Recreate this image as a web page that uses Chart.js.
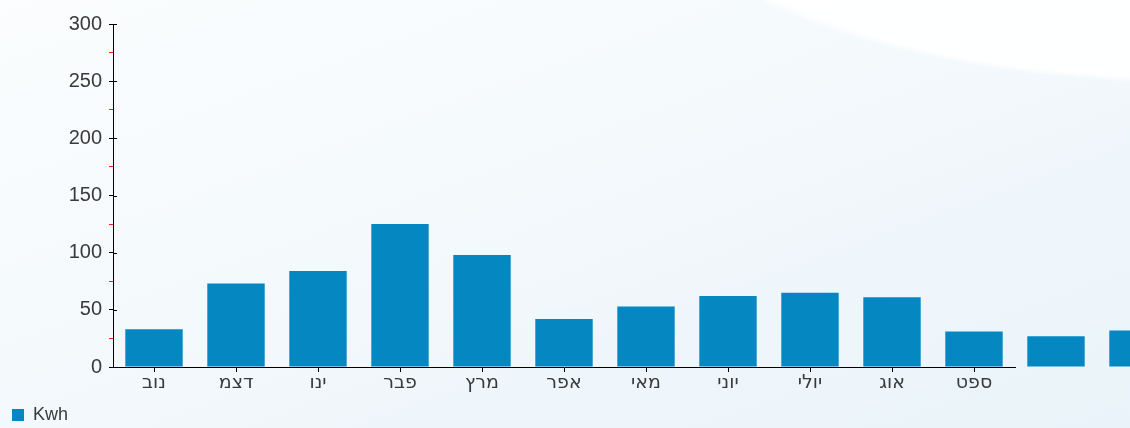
<!DOCTYPE html>
<html>
<head>
<meta charset="utf-8">
<script src="https://cdn.jsdelivr.net/npm/chart.js@4"></script>
<style>
  html, body { margin: 0; padding: 0; }
  body {
    width: 1130px; height: 428px; overflow: hidden;
    background:
      radial-gradient(ellipse 760px 330px at 1190px -170px, rgba(255,255,255,0.95) 75%, rgba(255,255,255,0) 77%),
      linear-gradient(160deg, #fbfdfe 0%, #f4f9fc 45%, #e9f3f9 100%);
  }
  #wrap { position: relative; width: 1130px; height: 428px; }
</style>
</head>
<body>
<div id="wrap"><canvas id="c"></canvas></div>
<script>
// months shown on the axis (last two bars have no label)
const months = ['נוב', 'דצמ', 'ינו', 'פבר', 'מרץ', 'אפר', 'מאי', 'יוני', 'יולי', 'אוג', 'ספט', '', ''];
const kwh = [33, 73, 84, 125, 98, 42, 53, 62, 65, 61, 31, 27, 32];
const seriesName = 'Kwh';

const BAR = '#0588c2';
const TXT = '#3a3a3a';
const FONT = "'Liberation Sans', Arial, sans-serif";

// small tick marks on the inner side of the y axis for the labelled values
const innerTicks = {
  id: 'innerTicks',
  afterDraw(chart) {
    const y = chart.scales.y;
    const ctx = chart.ctx;
    ctx.save();
    ctx.strokeStyle = '#000';
    ctx.lineWidth = 1;
    y.ticks.forEach(t => {
      if (t.value % 50 !== 0) return;
      const py = Math.round(y.getPixelForValue(t.value)) + 0.5;
      ctx.beginPath();
      ctx.moveTo(y.right, py);
      ctx.lineTo(y.right + 4, py);
      ctx.stroke();
    });
    ctx.restore();
  },
};

new Chart(document.getElementById('c'), {
  type: 'bar',
  data: {
    labels: months,
    datasets: [{
      label: seriesName,
      data: kwh,
      backgroundColor: BAR,
      borderWidth: 0,
      categoryPercentage: 0.7,
      barPercentage: 1,
      clip: false,
    }],
  },
  options: {
    responsive: true,
    maintainAspectRatio: false,
    animation: false,
    layout: { padding: { top: 24, right: 115, left: 0, bottom: -6 } },
    plugins: {
      legend: {
        position: 'bottom',
        align: 'start',
        labels: {
          boxWidth: 12, boxHeight: 12, padding: 12,
          color: TXT,
          font: { family: FONT, size: 18 },
        },
      },
      tooltip: { enabled: false },
    },
    scales: {
      x: {
        max: 10,
        afterFit: s => { s.height = 27; },
        grid: { drawOnChartArea: false, offset: false, tickLength: 5, tickColor: '#000' },
        border: { display: true, color: '#000', width: 1 },
        ticks: { color: TXT, font: { family: "'DejaVu Sans', sans-serif", size: 19 }, padding: 0, maxRotation: 0, autoSkip: false },
      },
      y: {
        min: 0, max: 300,
        afterFit: s => { s.width = 113; },
        grid: {
          drawOnChartArea: false,
          tickLength: 4,
          tickColor: c => (c.tick && c.tick.value % 50 === 0 ? '#000' : '#ff1a1a'),
        },
        border: { display: true, color: '#000', width: 1 },
        ticks: {
          stepSize: 25,
          padding: 7,
          color: TXT,
          font: { family: FONT, size: 20 },
          callback: v => (v % 50 === 0 ? v : ''),
        },
      },
    },
  },
  plugins: [innerTicks],
});
</script>
</body>
</html>
